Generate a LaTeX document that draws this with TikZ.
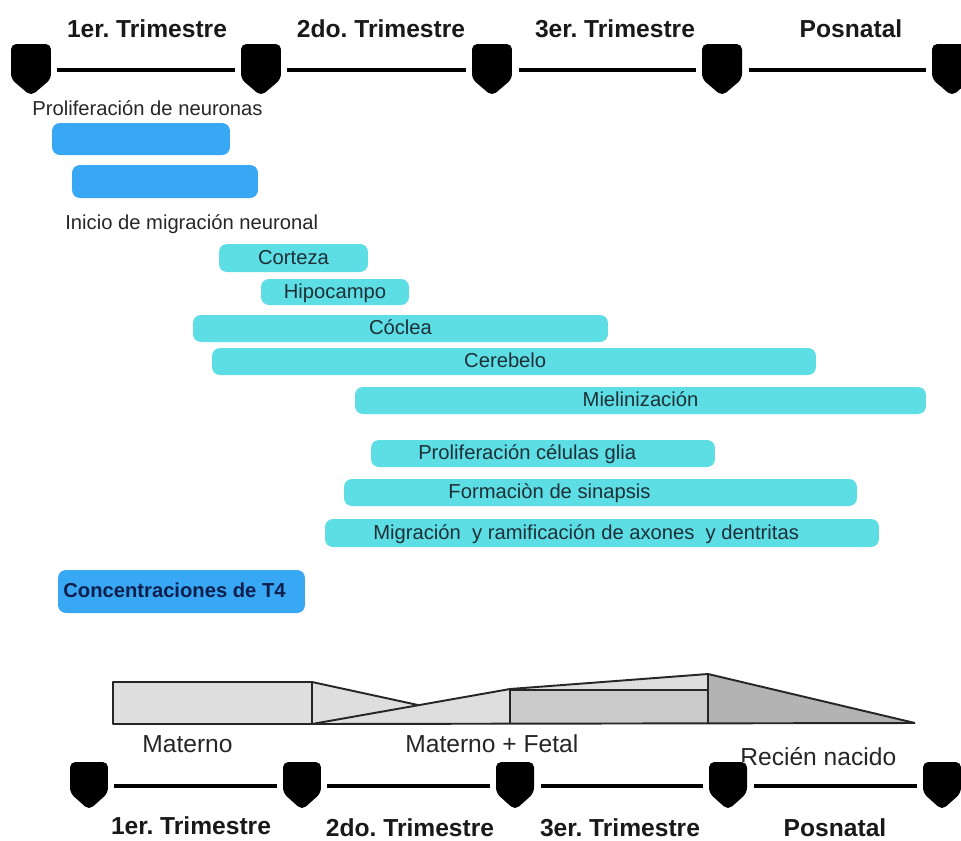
\documentclass[tikz,border=0pt]{standalone}
\usepackage{fontspec}
\setmainfont{Liberation Sans}
\frenchspacing

\definecolor{azul}{HTML}{38A8F5}
\definecolor{cian}{HTML}{5CDEE4}
\definecolor{tinta}{HTML}{1F2F38}
\definecolor{marino}{HTML}{0E1F4D}
\definecolor{gris1}{HTML}{DEDEDE}
\definecolor{gris2}{HTML}{CACACA}
\definecolor{gris3}{HTML}{B3B3B3}

\begin{document}
\begin{tikzpicture}[x=0.02cm, y=-0.02cm]
  \tikzstyle{hito}=[rectangle, minimum width=0.8cm, minimum height=1.04cm, inner sep=0pt, fill=white,
    path picture={\fill[black, rounded corners=3pt] (path picture bounding box.north west)
      -- (path picture bounding box.north east) -- ([yshift=0.34cm]path picture bounding box.south east)
      -- (path picture bounding box.south) -- ([yshift=0.34cm]path picture bounding box.south west) -- cycle;}]
  \tikzstyle{eje}=[line width=2.8pt, shorten <=3.5pt, shorten >=3.5pt]
  \tikzstyle{trim}=[anchor=base, inner sep=0pt, text=black!90, font=\fontsize{14}{16}\selectfont\bfseries]
  \tikzstyle{fase}=[anchor=base west, inner sep=0pt, text=black!85, font=\fontsize{14}{16}\selectfont]
  \tikzstyle{nota}=[anchor=base west, inner sep=0pt, text=black!85, font=\fontsize{11.5}{13}\selectfont]
  \tikzstyle{barra}=[rectangle, rounded corners=4.5pt, fill=cian, minimum height=0.54cm, inner sep=0pt,
    text=tinta, font=\fontsize{11.5}{13}\selectfont, text height=8.3pt, text depth=1.4pt]
  \tikzstyle{area}=[draw=black!85, line width=1.1pt, line join=round]

  \useasboundingbox (0,0) rectangle (961,840);

  % linea de tiempo superior
  \node[hito] (t1) at (31,  70) {};
  \node[hito] (t2) at (261, 70) {};
  \node[hito] (t3) at (492, 70) {};
  \node[hito] (t4) at (722, 70) {};
  \node[hito] (t5) at (952, 70) {};
  \foreach \a/\b in {t1/t2, t2/t3, t3/t4, t4/t5}
    \draw[eje] (\a) -- (\b);

  \node[trim] (s1) at (147, 37) {1er. Trimestre};
  \node[trim] (s2) at (381, 37) {2do. Trimestre};
  \node[trim] (s3) at (615, 37) {3er. Trimestre};
  \node[trim] (s4) at (851, 37) {Posnatal};

  % barras
  \node[nota] (n1) at (32, 115) {Proliferación de neuronas};
  \node[barra, fill=azul, minimum width=3.56cm, minimum height=0.64cm] (p1) at (141, 139) {};
  \node[barra, fill=azul, minimum width=3.72cm, minimum height=0.66cm] (p2) at (165, 181.5) {};
  \node[nota] (n2) at (65, 229) {Inicio de migración neuronal};

  \node[barra, minimum width=2.98cm, minimum height=0.56cm] (cor) at (293.5, 258) {Corteza};
  \node[barra, minimum width=2.96cm, minimum height=0.52cm] (hip) at (335, 292) {Hipocampo};
  \node[barra, minimum width=8.3cm] (coc) at (400.5, 328.5) {Cóclea};
  \node[barra, minimum width=12.08cm] (cer) at (514, 361.5) {\hspace*{-10pt}Cerebelo};
  \node[barra, minimum width=11.42cm] (mie) at (640.5, 400.5) {Mielinización};

  \node[barra, minimum width=6.88cm] (gli) at (543, 453.5) {\hspace*{-18pt}Proliferación células glia};
  \node[barra, minimum width=10.26cm] (sin) at (600.5, 492.5) {\hspace*{-58pt}Formaciòn de sinapsis};
  \node[barra, minimum width=11.08cm, minimum height=0.56cm] (axo) at (602, 533)
    {\hspace*{-18pt}Migración\ \ y ramificación de axones\ \ y dentritas};

  \node[barra, fill=azul, minimum width=4.94cm, minimum height=0.86cm] (t4c) at (181.5, 591.5) {};
  \node[nota, text=marino, font=\fontsize{11.5}{13}\selectfont\bfseries] (n3) at (63, 597)
    {Concentraciones de T4};

  % aporte de hormona
  \fill[gris1] (113,682) rectangle (312,724);
  \fill[gris1] (312,682) -- (418,705) -- (312,724) -- cycle;
  \fill[gris1] (312,724) -- (510,689) -- (510,724) -- cycle;
  \fill[gris1] (510,690) -- (708,674) -- (708,690) -- cycle;
  \fill[gris2] (510,690) rectangle (708,724);
  \fill[gris3] (708,674) -- (915,723) -- (708,724) -- cycle;

  \draw[area] (113,682) rectangle (312,724);
  \draw[area] (312,682) -- (418,705);
  \draw[area] (312,724) -- (510,689) -- (708,674) -- (915,723);
  \draw[area] (312,724) -- (915,723);
  \draw[area] (510,689) -- (510,724);
  \draw[area] (510,690) -- (708,690);
  \draw[area] (708,674) -- (708,724);

  \node[fase] (f1) at (142, 752) {Materno};
  \node[fase] (f2) at (405, 752) {Materno + Fetal};
  \node[fase] (f3) at (740, 765) {Recién nacido};

  % linea de tiempo inferior
  \node[hito, minimum width=0.76cm, minimum height=0.96cm] (b1) at (89,  786) {};
  \node[hito, minimum width=0.76cm, minimum height=0.96cm] (b2) at (302, 786) {};
  \node[hito, minimum width=0.76cm, minimum height=0.96cm] (b3) at (515, 786) {};
  \node[hito, minimum width=0.76cm, minimum height=0.96cm] (b4) at (728, 786) {};
  \node[hito, minimum width=0.76cm, minimum height=0.96cm] (b5) at (942, 786) {};
  \foreach \a/\b in {b1/b2, b2/b3, b3/b4, b4/b5}
    \draw[eje] (\a) -- (\b);

  \node[trim] (u1) at (191, 834) {1er. Trimestre};
  \node[trim] (u2) at (410, 836) {2do. Trimestre};
  \node[trim] (u3) at (620, 836) {3er. Trimestre};
  \node[trim] (u4) at (835, 836) {Posnatal};
\end{tikzpicture}
\end{document}
